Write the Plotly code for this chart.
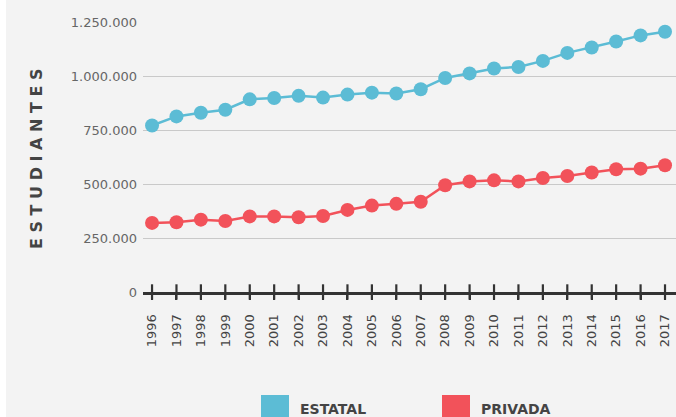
import plotly.graph_objects as go

years = list(range(1996, 2018))
estatal = [771000, 813000, 830000, 844000, 892000, 898000, 908000, 900000,
           914000, 923000, 919000, 939000, 991000, 1012000, 1035000, 1042000,
           1070000, 1107000, 1132000, 1160000, 1188000, 1205000]
privada = [320000, 323000, 335000, 329000, 350000, 350000, 346000, 352000,
           380000, 400000, 408000, 418000, 494000, 512000, 517000, 512000,
           528000, 537000, 553000, 568000, 571000, 587000]
y_ticks = [0, 250000, 500000, 750000, 1000000, 1250000]
y_labels = ["0", "250.000", "500.000", "750.000", "1.000.000", "1.250.000"]
series_names = ["ESTATAL", "PRIVADA"]
colors = ["#5cbcd5", "#f2525a"]

W, H = 676, 417
L, R, T, B = 143, 0, 22, 125
pw, ph = W - L - R, H - T - B

def px(x):
    return (x - L) / pw

def py(y):
    return (H - B - y) / ph

fig = go.Figure()
for name, vals, col in zip(series_names, [estatal, privada], colors):
    fig.add_trace(go.Scatter(
        x=years, y=vals, name=name, mode="lines+markers",
        line=dict(color=col, width=2.5),
        marker=dict(color=col, size=14),
        cliponaxis=False, showlegend=False, hoverinfo="skip"))

# upper half of the crossing tick marks on the baseline
fig.add_trace(go.Scatter(
    x=years, y=[0] * len(years), mode="markers",
    marker=dict(symbol="line-ns", size=11, line=dict(color="#333333", width=2.2)),
    cliponaxis=False, showlegend=False, hoverinfo="skip"))

shapes = [
    dict(type="rect", xref="paper", yref="paper", x0=px(0), x1=px(6), y0=py(H), y1=py(0),
         fillcolor="white", line=dict(width=0), layer="below"),
]
annotations = [
    dict(text="<b>E S T U D I A N T E S</b>",
         xref="paper", yref="paper", x=px(36), y=py(159), textangle=-90,
         showarrow=False, font=dict(family="DejaVu Sans", size=16, color="#444444"),
         xanchor="center", yanchor="middle"),
]
leg_x = [261, 442]
for name, col, x0 in zip(series_names, colors, leg_x):
    shapes.append(dict(type="rect", xref="paper", yref="paper",
                       x0=px(x0), x1=px(x0 + 28), y0=py(420), y1=py(395),
                       fillcolor=col, line=dict(width=0)))
    annotations.append(dict(text="<b>" + name + "</b>", xref="paper", yref="paper",
                            x=px(x0 + 37), y=py(409), showarrow=False,
                            xanchor="left", yanchor="middle",
                            font=dict(family="DejaVu Sans", size=14, color="#444444")))

fig.update_layout(
    width=W, height=H,
    margin=dict(l=L, r=R, t=T, b=B, pad=0),
    paper_bgcolor="#f3f3f3", plot_bgcolor="#f3f3f3",
    shapes=shapes, annotations=annotations,
    xaxis=dict(range=[1995.63, 2017.45], tickvals=years, ticktext=[str(y) for y in years],
               tickangle=-90, showgrid=False, zeroline=False,
               showline=True, linecolor="#333333", linewidth=3,
               ticks="outside", ticklen=5, tickwidth=2.2, tickcolor="#333333",
               ticklabelstandoff=9,
               tickfont=dict(family="DejaVu Sans", size=13, color="#444444"), fixedrange=True),
    yaxis=dict(range=[0, 1250000], tickvals=y_ticks, ticktext=y_labels,
               showgrid=True, gridcolor="#c9c9c9", gridwidth=1, zeroline=False,
               showline=False, ticks="", ticklabelstandoff=5,
               tickfont=dict(family="DejaVu Sans", size=13, color="#666666"), fixedrange=True),
)

fig.write_html("out.html", config={"displayModeBar": False},
               post_script="document.body.style.margin='0';document.body.style.overflow='hidden';")
